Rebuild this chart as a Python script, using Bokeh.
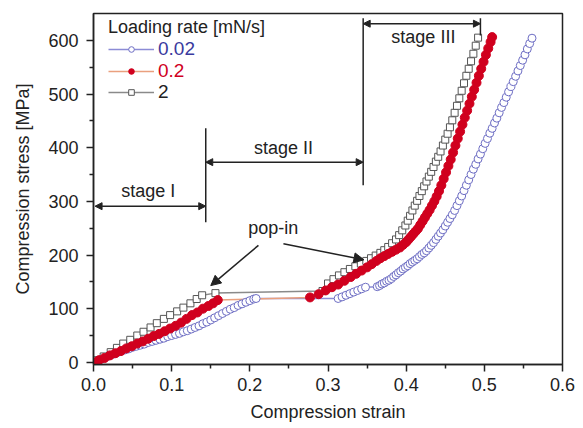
from bokeh.plotting import figure
from bokeh.models import (Range1d, FixedTicker, PrintfTickFormatter, Arrow, NormalHead,
                          Label, Legend, LegendItem)
from bokeh.embed import file_html
from bokeh.resources import INLINE

# ---------------- data ----------------
# loading rate 0.02 mN/s
strain_002 = [0.000, 0.005, 0.010, 0.015, 0.020, 0.025, 0.030, 0.035, 0.040, 0.045, 0.050, 0.055,
              0.060, 0.065, 0.070, 0.075, 0.080, 0.085, 0.090, 0.095, 0.100, 0.105, 0.110, 0.115,
              0.120, 0.125, 0.130, 0.135, 0.140, 0.145, 0.150, 0.155, 0.160, 0.165, 0.170, 0.175,
              0.180, 0.185, 0.190, 0.195, 0.200, 0.205, 0.208,
              0.313, 0.318, 0.323, 0.328, 0.333, 0.338, 0.343, 0.348,
              0.363, 0.366, 0.369, 0.372, 0.375, 0.378, 0.381, 0.384, 0.387, 0.390, 0.393, 0.396,
              0.399, 0.402, 0.405, 0.408, 0.411, 0.414, 0.417, 0.420, 0.423, 0.426, 0.429, 0.432,
              0.435, 0.438, 0.441, 0.444, 0.447, 0.450, 0.453, 0.456, 0.459, 0.462, 0.465, 0.468,
              0.471, 0.474, 0.477, 0.480, 0.483, 0.486, 0.489, 0.492, 0.495, 0.498, 0.501, 0.504,
              0.507, 0.510, 0.513, 0.516, 0.519, 0.522, 0.525, 0.528, 0.531, 0.534, 0.537, 0.540,
              0.543, 0.546, 0.549, 0.552, 0.555, 0.558, 0.561]
stress_002 = [0, 3, 6, 9, 12, 15, 18, 21, 23, 25, 28, 30,
              32, 34, 37, 39, 41, 43, 45, 48, 50, 52, 54, 57,
              59, 62, 65, 68, 72, 75, 79, 83, 87, 91, 95, 99,
              102, 106, 109, 112, 115, 118, 119,
              119, 122, 125, 128, 131, 134, 137, 140,
              141, 143, 146, 148, 151, 153, 156, 160, 163, 167, 170, 174,
              177, 180, 184, 187, 190, 193, 197, 201, 204, 208, 213, 218,
              223, 229, 235, 241, 247, 254, 261, 268, 275, 283, 292, 301,
              310, 320, 330, 340, 350, 360, 369, 379, 388, 398, 408, 417,
              427, 436, 446, 455, 465, 475, 484, 494, 504, 514, 523, 533,
              543, 553, 563, 573, 584, 594, 604]

# loading rate 0.2 mN/s
strain_02 = [0.000, 0.007, 0.014, 0.021, 0.028, 0.035, 0.042, 0.049, 0.056, 0.063, 0.070, 0.077,
             0.084, 0.091, 0.098, 0.105, 0.112, 0.119, 0.126, 0.133, 0.140, 0.147, 0.153, 0.159,
             0.277, 0.288, 0.297, 0.305, 0.313, 0.321, 0.329, 0.336, 0.343, 0.350, 0.356, 0.362,
             0.367, 0.372, 0.377, 0.382, 0.387, 0.392, 0.396, 0.400, 0.403, 0.406, 0.409, 0.412,
             0.415, 0.418, 0.421, 0.424, 0.427, 0.430, 0.433, 0.436, 0.439, 0.442, 0.445, 0.448,
             0.451, 0.454, 0.457, 0.460, 0.463, 0.466, 0.469, 0.472, 0.475, 0.478, 0.481, 0.484,
             0.487, 0.490, 0.493, 0.496, 0.499, 0.502, 0.505, 0.508, 0.510]
stress_02 = [0, 4, 8, 13, 17, 21, 26, 30, 35, 39, 44, 49,
             53, 58, 63, 68, 74, 81, 88, 93, 100, 105, 110, 116,
             121, 127, 134, 140, 145, 152, 159, 165, 171, 177, 183, 189,
             194, 198, 202, 206, 210, 214, 219, 224, 229, 234, 239, 244,
             249, 256, 263, 270, 277, 284, 292, 300, 309, 319, 330, 342,
             354, 366, 378, 391, 404, 417, 430, 443, 456, 469, 482, 495,
             508, 521, 534, 547, 560, 573, 585, 597, 606]

# loading rate 2 mN/s
strain_2 = [0.000, 0.005, 0.013, 0.022, 0.030, 0.038, 0.047, 0.056, 0.064, 0.073, 0.081, 0.090,
            0.098, 0.107, 0.115, 0.124, 0.132, 0.139, 0.156,
            0.293, 0.300, 0.307, 0.314, 0.321, 0.328, 0.335, 0.342, 0.349, 0.355, 0.361, 0.367,
            0.372, 0.377, 0.382, 0.387, 0.391, 0.395, 0.399, 0.402, 0.405, 0.408, 0.411, 0.414,
            0.417, 0.420, 0.423, 0.426, 0.429, 0.432, 0.435, 0.438, 0.441, 0.444, 0.447, 0.450,
            0.453, 0.456, 0.459, 0.462, 0.465, 0.468, 0.471, 0.474, 0.477, 0.480, 0.483, 0.486,
            0.489, 0.492]
stress_2 = [0, 4, 11, 19, 27, 35, 42, 50, 57, 65, 73, 81,
            88, 95, 102, 110, 118, 125, 129,
            133, 147, 155, 162, 168, 174, 179, 184, 189, 194, 199, 204,
            209, 215, 222, 229, 237, 246, 255, 264, 273, 283, 292, 301,
            310, 319, 328, 337, 346, 355, 364, 374, 383, 393, 404, 415,
            426, 438, 451, 465, 478, 492, 506, 520, 534, 547, 561, 575,
            590, 605]

rate_labels = ["0.02", "0.2", "2"]
x_ticks = [0.0, 0.1, 0.2, 0.3, 0.4, 0.5, 0.6]
x_minor = [0.05, 0.15, 0.25, 0.35, 0.45, 0.55]
y_ticks = [0, 100, 200, 300, 400, 500, 600]
y_minor = [50, 150, 250, 350, 450, 550]

# ---------------- figure ----------------
FONT = "Liberation Sans"
p = figure(width=583, height=428, x_range=Range1d(0, 0.6), y_range=Range1d(-4, 650),
           output_backend="svg", toolbar_location=None,
           min_border_left=93, min_border_right=21, min_border_top=13, min_border_bottom=64)
p.grid.visible = False
p.outline_line_color = "#222222"
p.outline_line_width = 1.5
p.background_fill_color = "white"
p.border_fill_color = "white"

for ax in (p.xaxis[0], p.yaxis[0]):
    ax.axis_line_width = 1.5
    ax.axis_line_color = "#222222"
    ax.major_tick_line_width = 1.5
    ax.minor_tick_line_width = 1.5
    ax.major_tick_line_color = "#222222"
    ax.minor_tick_line_color = "#222222"
    ax.major_tick_in = 0
    ax.major_tick_out = 7
    ax.minor_tick_in = 0
    ax.minor_tick_out = 4
    ax.major_label_text_font = FONT
    ax.major_label_text_font_size = "18px"
    ax.major_label_text_color = "#222222"
    ax.axis_label_text_font = FONT
    ax.axis_label_text_font_size = "18px"
    ax.axis_label_text_font_style = "normal"
    ax.axis_label_text_color = "#222222"

p.xaxis.ticker = FixedTicker(ticks=x_ticks, minor_ticks=x_minor)
p.yaxis.ticker = FixedTicker(ticks=y_ticks, minor_ticks=y_minor)
p.xaxis.formatter = PrintfTickFormatter(format="%.1f")
p.xaxis.axis_label = "Compression strain"
p.yaxis.axis_label = "Compression stress [MPa]"
p.xaxis.major_label_standoff = 6
p.yaxis.major_label_standoff = 8
p.xaxis.axis_label_standoff = 8
p.yaxis.axis_label_standoff = 12

# ---------------- series ----------------
l1 = p.line(strain_002, stress_002, line_color="#8c8cd6", line_width=1.5)
l3 = p.line(strain_2, stress_2, line_color="#8a8a8a", line_width=1.5)
l2 = p.line(strain_02, stress_02, line_color="#eaa07e", line_width=1.5)
s1 = p.scatter(strain_002, stress_002, marker="circle", size=8, line_color="#6e6ec4",
               fill_color="white", line_width=1)
s3 = p.scatter(strain_2, stress_2, marker="square", size=7, line_color="#555555",
               fill_color="white", line_width=1)
s2 = p.scatter(strain_02, stress_02, marker="circle", size=9, line_color="#d0001e",
               fill_color="#d0001e", line_width=1)

# ---------------- legend ----------------
legend_colors = ["#3a3a9e", "#d0001e", "#222222"]
legend_rend = [(l1, s1), (l2, s2), (l3, s3)]
legend_y = [304, 282, 261]
for i in range(3):
    lg = Legend(items=[LegendItem(label=rate_labels[i], renderers=list(legend_rend[i]))],
                location=(15, legend_y[i]), padding=0, margin=0, spacing=0,
                border_line_color=None, background_fill_alpha=0,
                glyph_width=46, glyph_height=14, label_height=20, label_standoff=4,
                label_text_font=FONT, label_text_font_size="19px",
                label_text_color=legend_colors[i])
    if i == 0:
        lg.title = "Loading rate [mN/s]"
        lg.title_text_font = FONT
        lg.title_text_font_size = "18px"
        lg.title_text_font_style = "normal"
        lg.title_text_color = "#222222"
        lg.title_standoff = 0
    p.add_layout(lg)

# ---------------- annotations ----------------
def seg(x0, y0, x1, y1, start=None, end=None):
    p.add_layout(Arrow(x_start=x0, y_start=y0, x_end=x1, y_end=y1, start=start, end=end,
                       line_width=1.5, line_color="#222222"))

def head(sz):
    return NormalHead(size=sz, fill_color="#222222", line_color="#222222", line_width=1)

# stage boundaries
seg(0.1436, 261, 0.1436, 436)
seg(0.345, 330, 0.345, 641)
seg(0.495, 609, 0.495, 641)
# stage arrows
seg(0.002, 291, 0.1436, 291, start=head(7), end=head(7))
seg(0.1436, 373, 0.345, 373, start=head(7), end=head(7))
seg(0.345, 631, 0.495, 631, start=head(7), end=head(7))
# pop-in arrows
seg(0.211, 218, 0.150, 143, end=head(10))
seg(0.243, 221, 0.346, 191, end=head(10))

for txt, x, y in [("stage I", 0.070, 320), ("stage II", 0.243, 399),
                  ("stage III", 0.422, 606), ("pop-in", 0.230, 250)]:
    p.add_layout(Label(x=x, y=y, text=txt, text_font=FONT, text_font_size="18px",
                       text_color="#222222", text_align="center", text_baseline="middle"))

open("out.html", "w").write(file_html(p, INLINE))
